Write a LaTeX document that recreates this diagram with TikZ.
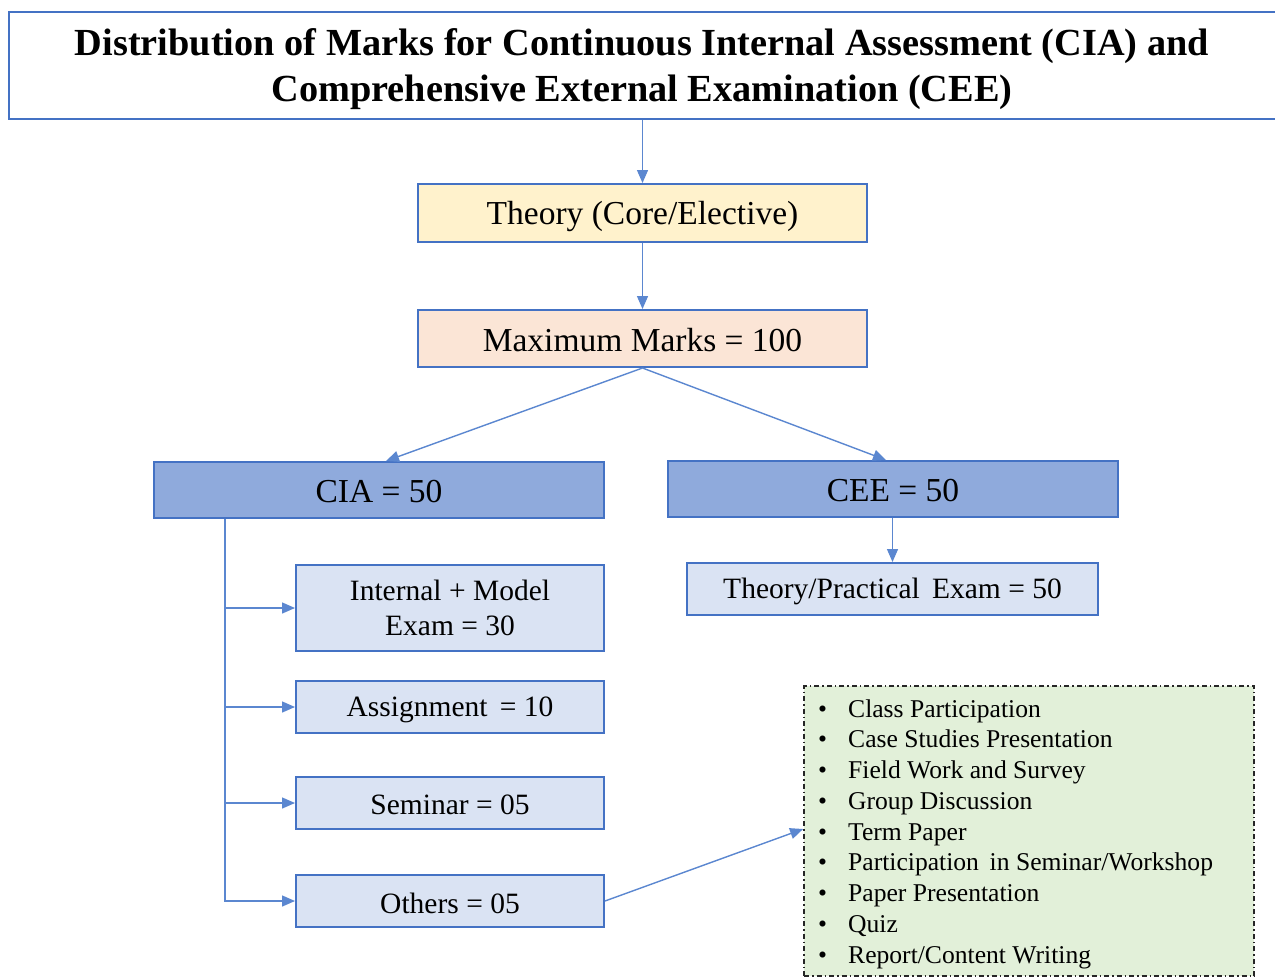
\documentclass[tikz,border=0pt]{standalone}
\usepackage{fontspec}
\setmainfont{Liberation Serif}
\usetikzlibrary{arrows.meta}
\definecolor{bord}{HTML}{4472C4}
\definecolor{conncol}{HTML}{5B87D0}
\definecolor{ylw}{HTML}{FFF2CC}
\definecolor{peach}{HTML}{FBE5D6}
\definecolor{ciafill}{HTML}{8FAADC}
\definecolor{subfill}{HTML}{DAE3F3}
\definecolor{grn}{HTML}{E2F0D9}
\newcommand{\lowr}[2]{\raisebox{-#1}[\height][\depth]{#2}}
\tikzset{
  bbox/.style={draw=bord, line width=2pt, inner sep=0pt, align=center},
  mainbox/.style={bbox, font=\fontsize{33.5}{40}\selectfont},
  subbox/.style={bbox, fill=subfill, font=\fontsize{29.5}{35}\selectfont},
  conn/.style={draw=conncol, line width=1.4pt, -{Triangle[length=13pt,width=11pt]}},
  listbox/.style={draw=black!85, line width=1.8pt, dash pattern=on 5pt off 3pt on 1.5pt off 3pt, fill=grn, inner sep=0pt}
}
\begin{document}
\begin{tikzpicture}[x=1pt,y=-1pt]
\useasboundingbox (0,0) rectangle (1275,978);
\clip (0,0) rectangle (1275,978);
\fill[white] (0,0) rectangle (1275,978);
% title
\node[bbox, fill=white, minimum width=1281, minimum height=107] (title) at (649.5,65.5) {};
\node[align=center, inner sep=0pt, font=\fontsize{38.3}{46}\selectfont\bfseries] (titletext) at (642,69)
  {Distribution of Marks for Continuous Internal Assessment (CIA) and\\Comprehensive External Examination (CEE)};
% main chain
\node[mainbox, fill=ylw, minimum width=449, minimum height=58] (theory) at (642.5,213) {\lowr{3pt}{Theory (Core/Elective)}};
\node[mainbox, fill=peach, minimum width=449, minimum height=57] (maxm) at (642.5,338.5) {\lowr{2pt}{Maximum Marks = 100}};
\node[mainbox, fill=ciafill, minimum width=450, minimum height=56] (cia) at (379,490) {\lowr{2pt}{CIA = 50}};
\node[mainbox, fill=ciafill, minimum width=450, minimum height=56] (cee) at (893,489) {\lowr{2pt}{CEE = 50}};
\node[subbox, minimum width=411, minimum height=52] (tpe) at (892.5,589) {\lowr{2pt}{Theory/Practical\, Exam = 50}};
% CIA components
\node[subbox, minimum width=308, minimum height=86] (intm) at (450,608) {\lowr{3pt}{\begin{tabular}{@{}c@{}}Internal + Model\\Exam = 30\end{tabular}}};
\node[subbox, minimum width=308, minimum height=52] (assign) at (450,707) {\lowr{3pt}{Assignment\, = 10}};
\node[subbox, minimum width=308, minimum height=52] (sem) at (450,803) {\lowr{2pt}{Seminar = 05}};
\node[subbox, minimum width=308, minimum height=52] (oth) at (450,901) {\lowr{2pt}{Others = 05}};
% list box
\node[listbox, minimum width=450, minimum height=290] (list) at (1029,831) {};
\node[anchor=base west, inner sep=0pt, align=left, font=\fontsize{25.6}{30.75}\selectfont] (listtext) at (818,963)
  {\makebox[30pt][l]{\textbullet}Class Participation\\
   \makebox[30pt][l]{\textbullet}Case Studies Presentation\\
   \makebox[30pt][l]{\textbullet}Field Work and Survey\\
   \makebox[30pt][l]{\textbullet}Group Discussion\\
   \makebox[30pt][l]{\textbullet}Term Paper\\
   \makebox[30pt][l]{\textbullet}Participation\, in Seminar/Workshop\\
   \makebox[30pt][l]{\textbullet}Paper Presentation\\
   \makebox[30pt][l]{\textbullet}Quiz\\
   \makebox[30pt][l]{\textbullet}Report/Content Writing};
% connectors
\draw[conn] (theory.north |- title.south) -- (theory.north);
\draw[conn] (theory.south) -- (maxm.north);
\draw[conn] (maxm.south) -- ([xshift=7pt]cia.north);
\draw[conn] (maxm.south) -- ([xshift=-7pt]cee.north);
\draw[conn] (tpe.north |- cee.south) -- (tpe.north);
\path (cia.south west) ++(72,0) coordinate (trunk);
\draw[conn] (trunk) |- (intm.west);
\draw[conn] (trunk) |- (assign.west);
\draw[conn] (trunk) |- (sem.west);
\draw[conn] (trunk) |- (oth.west);
\draw[conn] (oth.east) -- ([yshift=2pt]list.west);
\end{tikzpicture}
\end{document}
